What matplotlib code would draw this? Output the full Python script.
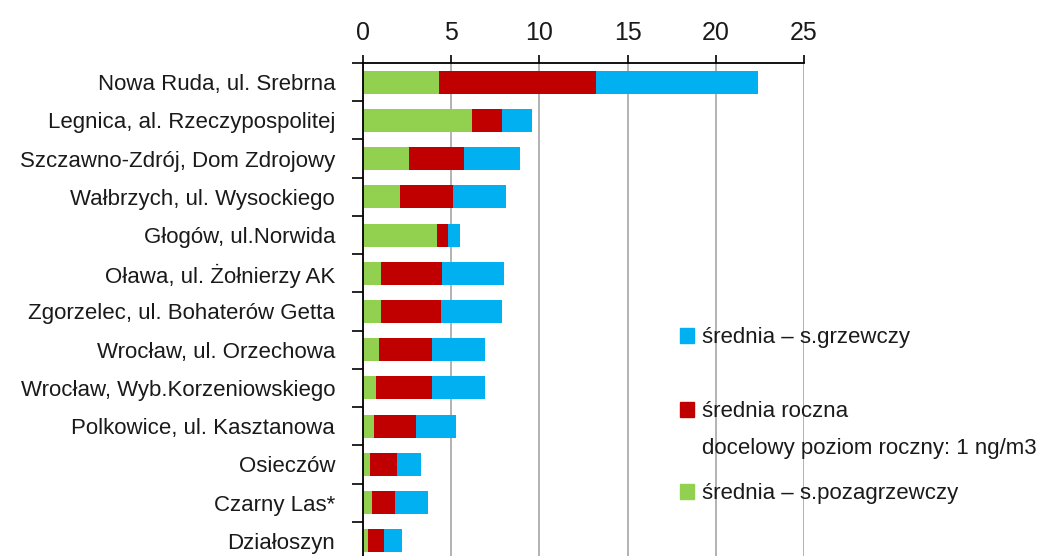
import matplotlib
matplotlib.use("Agg")
import matplotlib.pyplot as plt
from matplotlib.patches import Patch, Rectangle
import numpy as np

plt.rcParams["font.family"] = ["Liberation Sans", "DejaVu Sans"]

stations = [
    "Nowa Ruda, ul. Srebrna",
    "Legnica, al. Rzeczypospolitej",
    "Szczawno-Zdrój, Dom Zdrojowy",
    "Wałbrzych, ul. Wysockiego",
    "Głogów, ul.Norwida",
    "Oława, ul. Żołnierzy AK",
    "Zgorzelec, ul. Bohaterów Getta",
    "Wrocław, ul. Orzechowa",
    "Wrocław, Wyb.Korzeniowskiego",
    "Polkowice, ul. Kasztanowa",
    "Osieczów",
    "Czarny Las*",
    "Działoszyn",
]
# segment widths of the stacked bars (ng/m3)
pozagrzewczy = [4.3, 6.2, 2.6, 2.1, 4.2, 1.0, 1.0, 0.9, 0.75, 0.65, 0.4, 0.5, 0.3]
roczna = [8.9, 1.7, 3.1, 3.0, 0.6, 3.5, 3.4, 3.0, 3.15, 2.35, 1.5, 1.3, 0.9]
grzewczy = [9.2, 1.7, 3.2, 3.0, 0.7, 3.5, 3.5, 3.0, 3.0, 2.3, 1.4, 1.9, 1.0]
xticks = [0, 5, 10, 15, 20, 25]

GREEN = "#92D050"
RED = "#C00000"
BLUE = "#00B0F0"
TXT = "#1a1a1a"

W, H = 1048, 556
fig = plt.figure(figsize=(W / 100, H / 100), dpi=100)
fig.patch.set_facecolor("white")
ax = fig.add_axes([363 / W, 1 - 560 / H, 441 / W, 497 / H])

y = np.arange(len(stations))
g = np.array(pozagrzewczy)
r = np.array(roczna)
b = np.array(grzewczy)
ax.barh(y, g, height=0.6, color=GREEN, zorder=3)
ax.barh(y, r, left=g, height=0.6, color=RED, zorder=3)
ax.barh(y, b, left=g + r, height=0.6, color=BLUE, zorder=3)

ax.set_xlim(0, 25)
ax.set_ylim(len(stations) - 0.5, -0.5)
ax.xaxis.tick_top()
ax.set_xticks(xticks)
ax.set_xticklabels([str(t) for t in xticks], fontsize=18, color=TXT)
ax.tick_params(axis="x", direction="out", length=6, width=1.2, pad=7, color="black")
ax.set_yticks(y)
ax.set_yticklabels(stations, fontsize=16, color=TXT)
ax.set_yticks(np.arange(len(stations) + 1) - 0.5, minor=True)
ax.tick_params(axis="y", which="major", length=0, pad=20)
ax.tick_params(axis="y", which="minor", length=8, width=1.2, color="black")
ax.grid(axis="x", color="#a6a6a6", lw=1.2, zorder=0)
for s in ["right", "bottom"]:
    ax.spines[s].set_visible(False)
for s in ["top", "left"]:
    ax.spines[s].set_linewidth(1.3)
    ax.spines[s].set_color("black")
    ax.spines[s].set_zorder(4)

# white box behind the legend hides the grid lines there
ax.add_patch(Rectangle((650 / W, 1 - 547 / H), 190 / W, 235 / H,
                       transform=fig.transFigure, facecolor="white",
                       edgecolor="none", zorder=1, clip_on=False))

leg_kw = dict(
    bbox_transform=fig.transFigure,
    fontsize=16,
    handlelength=0.65,
    handleheight=0.65,
    handletextpad=0.32,
    labelspacing=0.72,
    frameon=False,
    borderpad=0.4,
)
leg1 = ax.legend(
    [Patch(color=BLUE), Patch(color="none"), Patch(color=RED), Patch(color="none")],
    ["średnia – s.grzewczy", "", "średnia roczna", "docelowy poziom roczny: 1 ng/m3"],
    loc="upper left",
    bbox_to_anchor=(660 / W, 1 - 307 / H),
    **leg_kw,
)
ax.add_artist(leg1)
leg2 = ax.legend(
    [Patch(color=GREEN)],
    ["średnia – s.pozagrzewczy"],
    loc="center left",
    bbox_to_anchor=(660 / W, 1 - 494 / H),
    **leg_kw,
)
for leg in (leg1, leg2):
    for t in leg.get_texts():
        t.set_color(TXT)

fig.savefig("out.png", dpi=100, facecolor="white")
